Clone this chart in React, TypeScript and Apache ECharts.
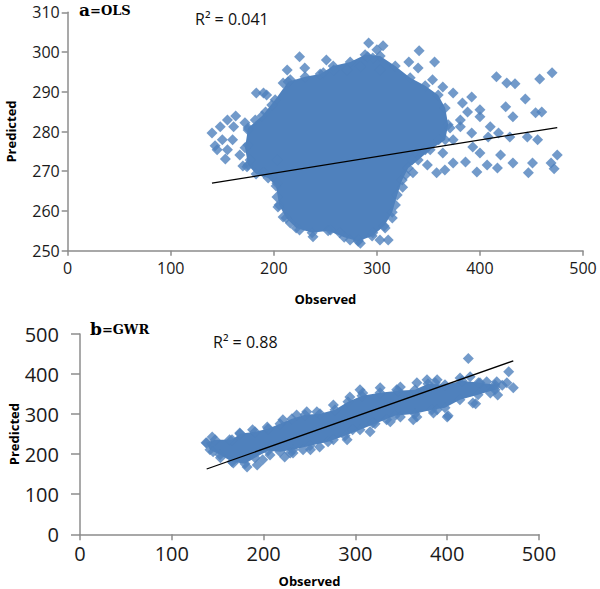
import React, { useEffect, useRef } from "react";
import * as echarts from "echarts";

// ---------- data ----------
const xTickValues = [0, 100, 200, 300, 400, 500];
const olsYRange = [250, 310];
const gwrYRange = [0, 500];

const olsR2 = "R² = 0.041";
const gwrR2 = "R² = 0.88";

// dense core of the OLS cloud (observed, predicted)
const olsCore = [
  [175, 280.9], [188.6, 283.9], [201.3, 288], [213.9, 292.5], [230.4, 293.8], [245, 294.5],
  [257.6, 296.5], [274.1, 297.5], [288.6, 299.3], [303.2, 299], [317.8, 296.5], [332.3, 293.5],
  [346.9, 291.5], [359.5, 289.2], [366.3, 285.9], [369.2, 281.7], [366.3, 277.9], [351.7, 275.4],
  [340.1, 272.8], [330.4, 270.8], [324.6, 267.8], [319.7, 264], [314.9, 259.7], [307.1, 256.2],
  [295.4, 253.7], [281.8, 252.4], [268.3, 253.4], [252.7, 255], [237.2, 254.5], [221.7, 255.7],
  [212, 258.2], [205.1, 261.5], [202.2, 266.3], [194.5, 268.3], [182.8, 269.3], [175, 271.6],
  [172.1, 275.9],
];

// individual OLS points around the core
const olsPoints = [
  [140, 279.6], [148, 281.2], [155, 282.9], [163, 283.9], [161, 281.2], [143, 276.4], [153, 273.1],
  [170, 271.3], [172, 282.2], [155, 275.4], [183, 289.7], [193, 289.2], [150, 277.9], [160, 277.9],
  [167, 274.1], [145, 275.4], [174, 271.1], [190, 269.6], [203, 272.8],
  [292, 302.3], [306, 301.6], [341, 300.3], [356, 297.5], [331, 297.5], [340, 296], [303, 295.5],
  [251, 298], [225, 298.8], [230, 296], [258, 295.5], [296, 298.5], [354, 293], [213, 295.5],
  [216, 293], [190, 289.7], [271, 295.5], [284, 296.3], [291, 298.8], [300, 300.6], [248, 294.8],
  [209, 292.2],
  [416, 293.8], [426, 292.2], [434, 292], [458, 293.2], [470, 294.8], [444, 288.2], [425, 286.2],
  [432, 283.7], [454, 284.7], [460, 284.9], [410, 281.2], [400, 285.5], [392, 279.6], [418, 279.6],
  [429, 278.6], [446, 278.6], [456, 277.9], [420, 274.1], [432, 272.1], [451, 272.1], [447, 269.6],
  [475, 274.1], [472, 270.6], [469, 272.1], [397, 269.8], [417, 270.8], [407, 271.6], [386, 272.3],
  [374, 272.1], [366, 270.3], [358, 269.6], [349, 271.6], [335, 269.6], [325, 266], [303, 252.7],
  [311, 252.7], [282, 252.7], [392, 288.7], [383, 287.2], [374, 289.7], [364, 291.2], [400, 283.7],
  [388, 284.9], [408, 278.6], [381, 281.2], [393, 276.1], [374, 277.9], [364, 274.6], [400, 274.6],
  [284, 251.9], [274, 252.7], [209, 258.5], [203, 263.5], [203, 267], [264, 254.5], [255, 255.2],
  [238, 253.5], [225, 255.2], [216, 257], [296, 254.5], [204, 261],
  [175, 280.4], [175, 276.6], [177, 272.8], [182, 282.9], [192, 284.9], [198, 286.7], [318, 261.5],
  [315, 258.2], [308, 255.7], [381, 282.9], [371, 280.9], [360, 277.9], [347, 275.4], [334, 272.8],
  [328, 269.1],
];

const olsTrend = [[140, 267], [475, 281]];

// dense core of the GWR band
const gwrCore = [
  [137.3, 228.3], [147.1, 235.8], [165.6, 235.8], [174.3, 250.8], [190.6, 255.8], [204.8, 263.3],
  [217.9, 275.8], [230.9, 288.3], [245.1, 298.3], [261.4, 300.8], [277.8, 310.8], [291.9, 330.8],
  [307.2, 345.8], [326.8, 353.3], [346.4, 358.3], [364.9, 360.8], [379.1, 375.8], [397.6, 373.3],
  [416.1, 383.3], [435.7, 378.3], [452.1, 373.3], [452.1, 360.8], [433.6, 348.3], [413.9, 335.8],
  [397.6, 315.8], [383.4, 310.8], [364.9, 300.8], [343.1, 295.8], [321.4, 275.8], [305, 260.8],
  [288.7, 245.8], [270.2, 230.8], [250.5, 220.8], [232, 210.8], [217.9, 205.8], [204.8, 208.3],
  [190.6, 190.8], [179.7, 175.8], [165.6, 180.8], [152.5, 198.3], [141.6, 210.8],
];

const gwrPoints = [
  [138, 228], [145, 206], [153, 191], [167, 178], [182, 168], [193, 173], [199, 186], [163, 236],
  [174, 253], [188, 261], [204, 268], [221, 286], [236, 298], [247, 306], [223, 193], [207, 198],
  [229, 203], [243, 211], [144, 243], [258, 306], [276, 323], [294, 343], [305, 361], [327, 366],
  [349, 368], [367, 378], [378, 386], [389, 386], [423, 439], [467, 406], [472, 366], [431, 326],
  [401, 296], [455, 348], [443, 381], [387, 378], [414, 390], [434, 378], [447, 353], [428, 328],
  [400, 293], [385, 303], [367, 293], [349, 293], [334, 286], [319, 278], [297, 261], [291, 236],
  [276, 236], [261, 218], [251, 211], [232, 203], [316, 256], [338, 281], [363, 286], [389, 311],
  [308, 353], [345, 361], [425, 393], [454, 381], [460, 372], [465, 378], [452, 368],
];

const gwrTrend = [[138, 163], [472, 433]];

// ---------- styling ----------
const BLUE = "#4F81BD";
const AXIS = "#8C8C8C";
const SANS = "Open Sans";

function coreSeries(outline: number[][], idx: number) {
  return {
    type: "custom",
    xAxisIndex: idx,
    yAxisIndex: idx,
    silent: true,
    z: 1,
    data: [outline[0]],
    renderItem: (_p: any, api: any) => ({
      type: "polygon",
      shape: { points: outline.map((p) => api.coord(p)) },
      style: { fill: BLUE },
    }),
  };
}

function pointSeries(pts: number[][], idx: number) {
  return {
    type: "scatter",
    xAxisIndex: idx,
    yAxisIndex: idx,
    symbol: "diamond",
    symbolSize: 11,
    itemStyle: { color: BLUE },
    z: 2,
    data: pts,
  };
}

function trendSeries(pts: number[][], idx: number) {
  return {
    type: "line",
    xAxisIndex: idx,
    yAxisIndex: idx,
    symbol: "none",
    lineStyle: { color: "#000", width: 1.3 },
    z: 3,
    data: pts,
  };
}

function xAxis(idx: number, fontSize: number, tickLen: number, nameGap: number) {
  return {
    gridIndex: idx,
    type: "value",
    min: xTickValues[0],
    max: xTickValues[xTickValues.length - 1],
    interval: xTickValues[1] - xTickValues[0],
    name: "Observed",
    nameLocation: "middle",
    nameGap,
    nameMoveOverlap: false,
    nameTextStyle: { fontFamily: SANS, fontWeight: "bold", fontSize: 13, color: "#000" },
    axisLine: { show: true, onZero: false, lineStyle: { color: AXIS, width: 1.5 } },
    axisTick: { show: true, length: tickLen, lineStyle: { color: AXIS, width: 1.5 } },
    axisLabel: { fontFamily: SANS, fontSize, color: "#1a1a1a", margin: 9 },
    splitLine: { show: false },
  };
}

function yAxis(idx: number, range: number[], interval: number, fontSize: number, tickLen: number, margin: number, nameGap: number) {
  return {
    gridIndex: idx,
    type: "value",
    min: range[0],
    max: range[1],
    interval,
    name: "Predicted",
    nameLocation: "middle",
    nameGap,
    nameMoveOverlap: false,
    nameTextStyle: { fontFamily: SANS, fontWeight: "bold", fontSize: 13, color: "#000" },
    axisLine: { show: true, onZero: false, lineStyle: { color: AXIS, width: 1.5 } },
    axisTick: { show: true, length: tickLen, lineStyle: { color: AXIS, width: 1.5 } },
    axisLabel: { fontFamily: SANS, fontSize, color: "#1a1a1a", margin },
    splitLine: { show: false },
  };
}

const titleRich = {
  big: { fontFamily: "DejaVu Serif", fontWeight: "bold", fontSize: 17, fill: "#000" },
  small: { fontFamily: "DejaVu Serif", fontWeight: "bold", fontSize: 13, fill: "#000" },
};

export default function App() {
  const ref = useRef<HTMLDivElement>(null);
  useEffect(() => {
    if (!ref.current) return;
    const chart = echarts.init(ref.current, null, { renderer: "svg" });
    chart.setOption({
      animation: false,
      backgroundColor: "#fff",
      grid: [
        { left: 67.7, right: 17, top: 12.3, height: 238.4, containLabel: false, outerBoundsMode: "none" },
        { left: 80, right: 61, top: 334, height: 200.3, containLabel: false, outerBoundsMode: "none" },
      ],
      xAxis: [xAxis(0, 16, 5, 42), xAxis(1, 20, 6, 40)],
      yAxis: [
        yAxis(0, olsYRange, 10, 16, 6, 8, 50),
        yAxis(1, gwrYRange, 100, 20, 9, 21, 60),
      ],
      series: [
        coreSeries(olsCore, 0),
        pointSeries(olsCore, 0),
        pointSeries(olsPoints, 0),
        trendSeries(olsTrend, 0),
        coreSeries(gwrCore, 1),
        pointSeries(gwrCore, 1),
        pointSeries(gwrPoints, 1),
        trendSeries(gwrTrend, 1),
      ],
      graphic: [
        {
          type: "text",
          x: 79,
          y: 10,
          style: { text: "{big|a}{small|=OLS}", rich: titleRich, verticalAlign: "middle" },
        },
        {
          type: "text",
          x: 90,
          y: 329,
          style: { text: "{big|b}{small|=GWR}", rich: titleRich, verticalAlign: "middle" },
        },
        {
          type: "text",
          x: 195,
          y: 18.5,
          style: { text: olsR2, fontFamily: SANS, fontSize: 16, fill: "#111", verticalAlign: "middle" },
        },
        {
          type: "text",
          x: 213,
          y: 342,
          style: { text: gwrR2, fontFamily: SANS, fontSize: 16, fill: "#111", verticalAlign: "middle" },
        },
      ],
    });
    return () => chart.dispose();
  }, []);
  return (
    <div
      ref={ref}
      style={{ position: "absolute", left: 0, top: 0, width: 600, height: 589 }}
    />
  );
}
